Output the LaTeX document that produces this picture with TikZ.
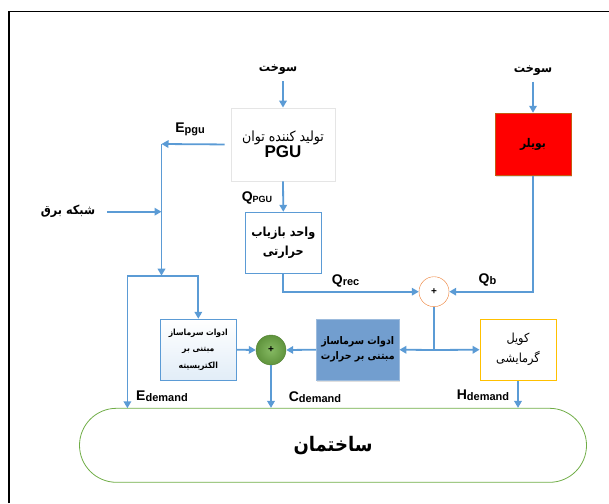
\documentclass[tikz,border=0pt]{standalone}
\usepackage{fontspec}
\setmainfont{Liberation Sans}
\newfontfamily\farsi[Script=Arabic]{DejaVu Sans Condensed}
\TeXXeTstate=1
\usetikzlibrary{arrows.meta,positioning,shadows}
\definecolor{flowblue}{HTML}{5B9BD5}
\definecolor{boilred}{HTML}{FF0000}
\definecolor{boiledge}{HTML}{C55A11}
\definecolor{sumorange}{HTML}{ED7D31}
\definecolor{absfill}{HTML}{729ECF}
\definecolor{coilyellow}{HTML}{FFC000}
\definecolor{bldggreen}{HTML}{70AD47}
\def\fa#1{{\farsi\beginR #1\endR}}
\def\sublab#1#2{{\bfseries\fontsize{14}{14}\selectfont #1\raisebox{-1pt}{\fontsize{11}{11}\selectfont #2}}}
\tikzset{
	flow/.style={line width=1.8pt, color=flowblue, -{Triangle[length=7pt,width=7.5pt]}},
	link/.style={line width=1.8pt, color=flowblue},
	lbl/.style={inner sep=0pt},
	unitbox/.style={draw, align=center, line width=0.8pt, minimum height=61pt},
	sumnode/.style={circle, minimum size=30pt, inner sep=0pt, font=\fontsize{10}{10}\selectfont\bfseries}
}

\begin{document}
\begin{tikzpicture}[x=1pt, y=-1pt]
			%%%%% START %%%%%
			\useasboundingbox (0,0) rectangle (609,503);
			\draw[line width=1.5pt] (9,503) -- (9,11.7) -- (609,11.7);
			
			% units
			\node[unitbox, draw=black!10, minimum width=104pt, minimum height=73pt, font=\fontsize{14}{16}\selectfont] (pgu) at (283,144.5) {\fa{تولید کننده توان}\\{\fontsize{17}{17}\selectfont\bfseries PGU}};
			\node[unitbox, draw=flowblue, minimum width=75.5pt, font=\fontsize{12.5}{19}\selectfont\bfseries] (hrec) at (283.3,242.7) {\fa{واحد بازیاب}\\\fa{حرارتی}};
			\node[unitbox, draw=boiledge, fill=boilred, minimum width=76pt, minimum height=62pt, drop shadow={shadow xshift=1pt, shadow yshift=-1.5pt, opacity=0.25}, font=\fontsize{12}{14}\selectfont\bfseries] (boiler) at (533,144.2) {\fa{بویلر}};
			\node[unitbox, draw=flowblue, minimum width=76.5pt, top color=white, bottom color=flowblue!18, font=\fontsize{8.5}{16.5}\selectfont\bfseries] (echill) at (198.3,349.7) {\fa{ادوات سرماساز}\\\fa{مبتنی بر}\\\fa{الکتریسیته}};
			\node[unitbox, draw=absfill!70!white, fill=absfill, minimum width=82.5pt, drop shadow={shadow xshift=1pt, shadow yshift=-1.5pt, opacity=0.25}, font=\fontsize{10.5}{15}\selectfont\bfseries] (absch) at (357.7,349.7) {\fa{ادوات سرماساز}\\\fa{مبتنی بر حرارت}};
			\node[unitbox, draw=coilyellow, fill=white, minimum width=76pt, font=\fontsize{12.5}{20}\selectfont] (hcoil) at (518,349.7) {\fa{کویل}\\\fa{گرمایشی}};
			
			\node[sumnode, draw=sumorange, fill=white] (sumq) at (434,291.7) {+};
			\node[sumnode, draw=bldggreen!75!black, inner color=bldggreen!85!white, outer color=bldggreen!85!black] (sumc) at (271,350) {+};
			
			\node[draw=bldggreen, line width=0.8pt, rounded corners=37pt, minimum width=507pt, minimum height=74pt, font=\fontsize{20}{20}\selectfont\bfseries] (bldg) at (333,445.3) {\fa{ساختمان}};
			
			% labels
			\node[lbl, font=\fontsize{12.5}{13}\selectfont\bfseries] (fuela) at (278,70) {\fa{سوخت}};
			\node[lbl, font=\fontsize{12.5}{13}\selectfont\bfseries] (fuelb) at (533,70.7) {\fa{سوخت}};
			\node[lbl, font=\fontsize{12.5}{13}\selectfont\bfseries] (grid) at (68,211.7) {\fa{شبکه برق}};
			\node[lbl] (epgu) at (190,129) {\sublab{E}{pgu}};
			\node[lbl] (qpgu) at (257,198) {\sublab{Q}{\fontsize{9}{9}\selectfont PGU}};
			\node[lbl] (qrec) at (345.6,281) {\sublab{Q}{rec}};
			\node[lbl] (qb) at (487.5,280) {\sublab{Q}{b}};
			\node[lbl] (edemand) at (162,396.5) {\sublab{E}{demand}};
			\node[lbl] (cdemand) at (315,396.7) {\sublab{C}{demand}};
			\node[lbl] (hdemand) at (483,395) {\sublab{H}{demand}};
			
			\coordinate (ejunc) at (161.5,144);
			\coordinate (gridin) at (161.5,211.7);
			\coordinate (esplit) at (161.5,275.7);
			\coordinate (edem) at (127.4,408.3);
			\coordinate (qsplit) at (434,350);
			
			% electricity
			\draw[flow, shorten <=6pt] (pgu.west) -- (ejunc);
			\draw[flow] (ejunc) -- (esplit);
			\draw[flow, shorten <=12pt] (grid.east) -- (gridin);
			\draw[flow] (esplit) -| (edem);
			\draw[flow] (esplit) -| (echill.north);
			
			% heat
			\draw[flow, shorten <=6pt] (fuela.south -| pgu.north) -- (pgu.north);
			\draw[flow, shorten <=6pt] (fuelb.south -| boiler.north) -- (boiler.north);
			\draw[flow] (pgu.south) -- (hrec.north);
			\draw[flow] (hrec.south) |- (sumq.west);
			\draw[flow] (boiler.south) |- (sumq.east);
			\draw[link] (sumq.south) -- (qsplit);
			\draw[flow] (qsplit) -- (absch.east);
			\draw[flow] (qsplit) -- (hcoil.west);
			
			% cooling and demand
			\draw[flow] (echill.east) -- (sumc.west);
			\draw[flow] (absch.west) -- (sumc.east);
			\draw[flow] (sumc.south) -- (sumc.south |- bldg.north);
			\draw[flow] (hcoil.south) -- (hcoil.south |- bldg.north);
			%%%%% END %%%%%
\end{tikzpicture}
\end{document}
